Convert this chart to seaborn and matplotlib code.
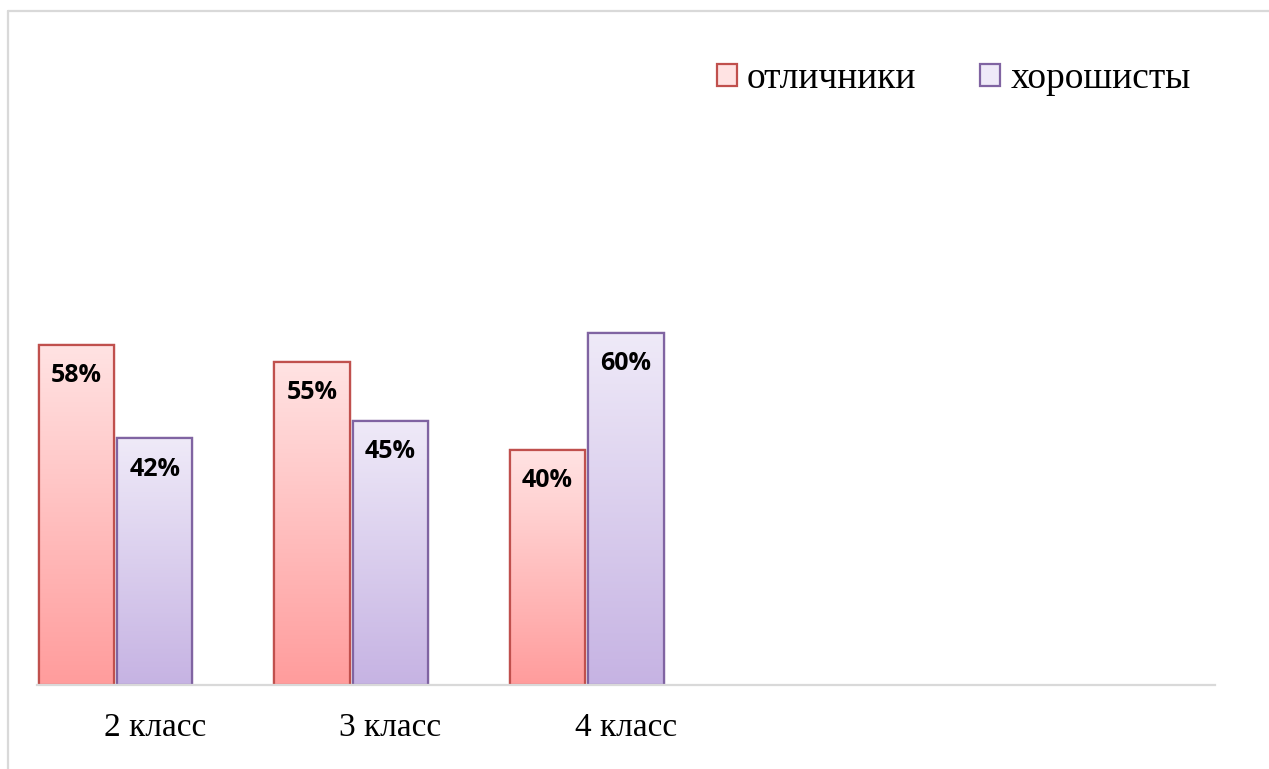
import numpy as np
import pandas as pd
import matplotlib
matplotlib.use("Agg")
import matplotlib.pyplot as plt
import matplotlib.colors as mcolors
from matplotlib.patches import Patch
from matplotlib.lines import Line2D
import seaborn as sns

# ----------------------------
# Data
# ----------------------------

classes = ["2 класс", "3 класс", "4 класс"]
series_names = ["отличники", "хорошисты"]
excellent = [0.58, 0.55, 0.40]
good = [0.42, 0.45, 0.60]

df = pd.DataFrame({
    "class": classes * 2,
    "group": [series_names[0]] * 3 + [series_names[1]] * 3,
    "share": excellent + good,
})

# colours: edge, top of gradient, bottom of gradient
edge_colors = ["#C0504D", "#8064A2"]
top_colors = ["#FFE3E3", "#EFEAF8"]
bottom_colors = ["#FF9C9C", "#C6B3E3"]

# ----------------------------
# Figure
# ----------------------------

sns.set_theme(style="white")
plt.rcParams["font.family"] = ["Liberation Serif", "DejaVu Serif"]
plt.rcParams["text.color"] = "black"

fig = plt.figure(figsize=(12.69, 7.69), dpi=100)
ax = fig.add_axes([37 / 1269, 84 / 769, 1178 / 1269, 587 / 769])

# third (empty) hue slot keeps the Excel-like spacing
sns.barplot(
    data=df,
    x="class",
    y="share",
    hue="group",
    hue_order=series_names + ["_empty"],
    order=classes,
    palette=[top_colors[0], top_colors[1], "white"],
    width=1.0,
    gap=0.04,
    linewidth=1.6,
    legend=False,
    ax=ax,
)

ax.set_xlim(-0.5, 4.5)
ax.set_ylim(0, 1.0)

# gradient fill + value labels
for i, container in enumerate(ax.containers[:2]):
    grad = np.linspace(
        mcolors.to_rgba(bottom_colors[i]),
        mcolors.to_rgba(top_colors[i]),
        256,
    ).reshape(256, 1, 4)
    for bar in container:
        bar.set_edgecolor(edge_colors[i])
        x0 = bar.get_x()
        x1 = x0 + bar.get_width()
        h = bar.get_height()
        im = ax.imshow(
            grad,
            extent=[x0, x1, 0, h],
            origin="lower",
            aspect="auto",
            zorder=bar.get_zorder() + 0.1,
        )
        im.set_clip_path(bar)
        edge = plt.Rectangle(
            (x0, 0), x1 - x0, h,
            fill=False, edgecolor=edge_colors[i], linewidth=1.6,
            zorder=bar.get_zorder() + 0.2,
        )
        ax.add_patch(edge)
        ax.annotate(
            f"{h * 100:.0f}%",
            (x0 + (x1 - x0) / 2, h),
            xytext=(0, -13),
            textcoords="offset points",
            ha="center",
            va="top",
            fontsize=18,
            fontweight="bold",
            family=["Open Sans", "DejaVu Sans"],
            color="black",
            zorder=5,
        )

ax.set_xlim(-0.5, 4.5)
ax.set_ylim(0, 1.0)

# axes styling
sns.despine(ax=ax, left=True, top=True, right=True)
ax.spines["bottom"].set_color("#D9D9D9")
ax.spines["bottom"].set_linewidth(1.6)
ax.set_yticks([])
ax.set_xlabel("")
ax.set_ylabel("")
ax.tick_params(axis="x", length=0, pad=20, labelsize=24, colors="black")

# legend
handles = [
    Patch(facecolor=top_colors[i], edgecolor=edge_colors[i], linewidth=1.6, label=series_names[i])
    for i in range(2)
]
fig.legend(
    handles=handles,
    loc="center left",
    bbox_to_anchor=(717 / 1269, 1 - 79 / 769),
    ncol=2,
    frameon=False,
    fontsize=27,
    labelcolor="black",
    handlelength=0.53,
    handleheight=0.53,
    handletextpad=0.27,
    columnspacing=1.7,
    borderpad=0,
    borderaxespad=0,
)

# outer frame (top and left edges visible)
frame_color = "#D9D9D9"
fig.add_artist(Line2D([8 / 1269, 1], [1 - 11 / 769] * 2, color=frame_color, linewidth=1.6, transform=fig.transFigure))
fig.add_artist(Line2D([8 / 1269] * 2, [0, 1 - 11 / 769], color=frame_color, linewidth=1.6, transform=fig.transFigure))

plt.savefig("out.png", dpi=100)
